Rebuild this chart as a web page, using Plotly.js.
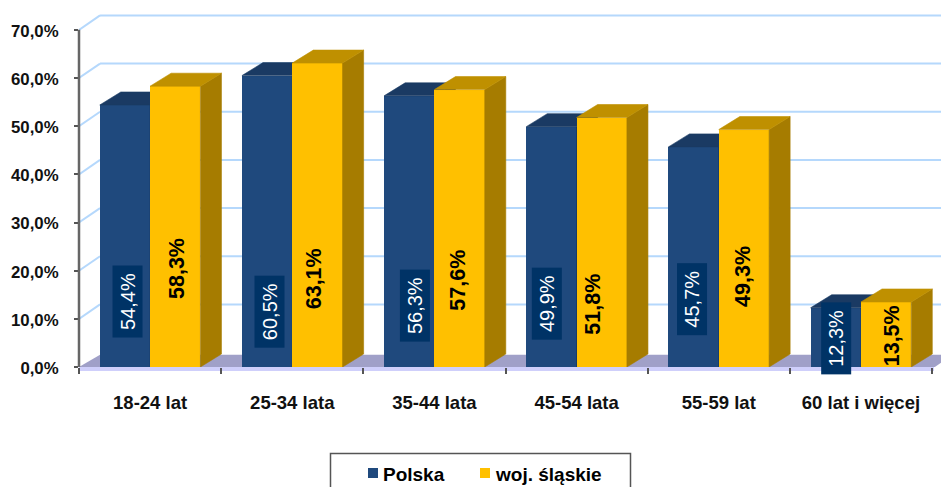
<!DOCTYPE html>
<html>
<head>
<meta charset="utf-8">
<script src="https://cdn.plot.ly/plotly-3.0.1.min.js"></script>
<style>html,body{margin:0;padding:0;background:#fff;overflow:hidden}#chart{width:941px;height:487px}</style>
</head>
<body>
<div id="chart"></div>
<script>
// ---- data ----
const categories = ["18-24 lat", "25-34 lata", "35-44 lata", "45-54 lata", "55-59 lat", "60 lat i więcej"];
const polska = [54.4, 60.5, 56.3, 49.9, 45.7, 12.3];
const slaskie = [58.3, 63.1, 57.6, 51.8, 49.3, 13.5];
const polskaLabels = ["54,4%", "60,5%", "56,3%", "49,9%", "45,7%", "12,3%"];
const slaskieLabels = ["58,3%", "63,1%", "57,6%", "51,8%", "49,3%", "13,5%"];
const seriesNames = ["Polska", "woj. śląskie"];
const yTickVals = [0, 10, 20, 30, 40, 50, 60, 70];
const yTickText = ["0,0%", "10,0%", "20,0%", "30,0%", "40,0%", "50,0%", "60,0%", "70,0%"];

// ---- label placement ----
const polskaLabelY = [13.6, 11.4, 12.8, 13.2, 14.0, 6.0];
const polskaLabelShift = [2.6, 2, 5.5, -4.7, -1.5, 0];
const slaskieLabelY = [20.4, 18.3, 18.05, 13.1, 18.9, 6.4];
const slaskieLabelShift = [1, -4, -2, -9, -1, 6];

// ---- geometry ----
const xEnd = 862 / 142.17;
const yEnd = 73.5;
const barW = 0.354;
const depthX = 0.148, depthY = 2.7;      // bar depth
const wallX = 0.148, wallY = 3.0;        // wall depth
const centers = categories.map((_, i) => i + 0.5);
const boundaries = categories.map((_, i) => i).concat([categories.length]);

function polys(vals, x0Of, build) {
  const xs = [], ys = [];
  vals.forEach((v, i) => {
    build(x0Of(i), x0Of(i) + barW, v).forEach(p => { xs.push(p[0]); ys.push(p[1]); });
    xs.push(null); ys.push(null);
  });
  return { x: xs, y: ys };
}
const topPoly = (a, b, v) => [[a, v], [a + depthX, v + depthY], [b + depthX, v + depthY], [b, v], [a, v]];
const sidePoly = (a, b, v) => [[b, 0], [b + depthX, depthY], [b + depthX, v + depthY], [b, v], [b, 0]];

function polyTrace(p, color, xa, ya) {
  return { type: 'scatter', mode: 'lines', x: p.x, y: p.y, fill: 'toself', fillcolor: color,
    line: { width: 0.6, color: color }, hoverinfo: 'skip', showlegend: false, xaxis: xa, yaxis: ya };
}
const blueX0 = i => centers[i] - barW;
const yellowX0 = i => centers[i];

const traces = [
  polyTrace(polys(polska, blueX0, sidePoly), '#17375E', 'x', 'y'),
  polyTrace(polys(polska, blueX0, topPoly), '#1A3A63', 'x', 'y'),
  { type: 'bar', name: seriesNames[0], x: centers, y: polska, width: barW, offset: -barW,
    marker: { color: '#1F497D', line: { width: 0 } }, showlegend: false, xaxis: 'x', yaxis: 'y' },
  { type: 'bar', name: seriesNames[1], x: centers, y: slaskie, width: barW, offset: 0,
    marker: { color: '#FFC000', line: { width: 0 } }, showlegend: false, xaxis: 'x2', yaxis: 'y2' },
  polyTrace(polys(slaskie, yellowX0, sidePoly), '#A67C00', 'x2', 'y2'),
  polyTrace(polys(slaskie, yellowX0, topPoly), '#BF9000', 'x2', 'y2')
];

const ML = 79, MT = 13, PW = 862, PH = 354;
const pxX = px => (px - ML) / PW;
const pxY = py => (MT + PH - py) / PH;

const shapes = [];
yTickVals.filter(v => v > 0).forEach(v => {
  const line = { color: '#B5D8FC', width: 2 };
  shapes.push({ type: 'line', layer: 'below', xref: 'x', yref: 'y', x0: 0, y0: v, x1: wallX, y1: v + wallY, line });
  shapes.push({ type: 'line', layer: 'below', xref: 'x', yref: 'y', x0: wallX, y0: v + wallY, x1: xEnd, y1: v + wallY, line });
});
// floor
shapes.push({ type: 'path', layer: 'below', xref: 'x', yref: 'y',
  path: `M0,0 L${wallX},${wallY * 0.85} L${xEnd},${wallY * 0.85} L${xEnd},${wallY * 0.3} L${boundaries[6] + 0.02},0 Z`,
  fillcolor: '#A0A0C8', line: { width: 0 } });
// floor front edge
shapes.push({ type: 'rect', layer: 'below', xref: 'paper', yref: 'paper',
  x0: 0, x1: pxX(934), y0: pxY(371), y1: pxY(367), fillcolor: '#CFCFFB', line: { width: 0 } });
// value axis line
shapes.push({ type: 'line', layer: 'above', xref: 'paper', yref: 'y', x0: 0, x1: 0, y0: 0, y1: 70,
  line: { color: '#666666', width: 2.5 } });
// legend box and keys
shapes.push({ type: 'rect', layer: 'above', xref: 'paper', yref: 'paper',
  x0: pxX(330.5), x1: pxX(630.5), y0: pxY(495), y1: pxY(453.5), fillcolor: 'rgba(0,0,0,0)',
  line: { color: '#555555', width: 1.5 } });
shapes.push({ type: 'rect', layer: 'above', xref: 'paper', yref: 'paper',
  x0: pxX(368), x1: pxX(378), y0: pxY(478), y1: pxY(468), fillcolor: '#1F497D', line: { width: 0 } });
shapes.push({ type: 'rect', layer: 'above', xref: 'paper', yref: 'paper',
  x0: pxX(480), x1: pxX(490), y0: pxY(478), y1: pxY(468), fillcolor: '#FFC000', line: { width: 0 } });

const annotations = [];
polskaLabels.forEach((t, i) => annotations.push({
  text: t, xref: 'x', yref: 'y', x: centers[i] - barW / 2, y: polskaLabelY[i], xshift: polskaLabelShift[i],
  showarrow: false, textangle: -90, xanchor: 'center', yanchor: 'middle',
  width: 71, height: 29, borderpad: 0, bgcolor: '#003366',
  font: { family: 'Liberation Sans', size: 20, color: '#FFFFFF' }
}));
slaskieLabels.forEach((t, i) => annotations.push({
  text: t, xref: 'x', yref: 'y', x: centers[i] + barW / 2, y: slaskieLabelY[i], xshift: slaskieLabelShift[i],
  showarrow: false, textangle: -90, xanchor: 'center', yanchor: 'middle',
  font: { family: 'Liberation Sans', size: 21.5, color: '#000000', weight: 700 }
}));
[[381.5, 0], [493.5, 1]].forEach(([px, k]) => annotations.push({
  text: seriesNames[k], xref: 'paper', yref: 'paper', x: pxX(px), y: pxY(474),
  showarrow: false, xanchor: 'left', yanchor: 'middle', borderpad: 0,
  font: { family: 'Liberation Sans', size: 19, color: '#000000', weight: 700 }
}));

const hiddenAxis = { visible: false, fixedrange: true };
const layout = {
  width: 941, height: 487,
  margin: { l: ML, r: 0, t: MT, b: 120, pad: 0 },
  paper_bgcolor: '#FFFFFF', plot_bgcolor: 'rgba(0,0,0,0)',
  showlegend: false, bargap: 0,
  xaxis: {
    range: [0, xEnd], tickmode: 'array', tickvals: centers, ticktext: categories, ticks: '',
    ticklabelstandoff: 22, showgrid: false, zeroline: false, showline: false,
    tickfont: { family: 'Liberation Sans', size: 18.5, color: '#111111', weight: 700 },
    minor: { ticks: 'outside', tickmode: 'array', tickvals: boundaries, ticklen: 6, tickwidth: 1.5, tickcolor: '#555555', showgrid: false }
  },
  yaxis: {
    range: [0, yEnd], tickmode: 'array', tickvals: yTickVals, ticktext: yTickText, ticks: 'outside',
    ticklen: 4, tickwidth: 1.5, tickcolor: '#555555', ticklabelstandoff: 12, ticklabelshift: 1,
    showgrid: false, zeroline: false, showline: false,
    tickfont: { family: 'Liberation Sans', size: 16.8, color: '#111111', weight: 700 }
  },
  xaxis2: Object.assign({ overlaying: 'x', range: [0, xEnd], anchor: 'y2' }, hiddenAxis),
  yaxis2: Object.assign({ overlaying: 'y', range: [0, yEnd], anchor: 'x2' }, hiddenAxis),
  shapes, annotations
};
Plotly.newPlot('chart', traces, layout, { displayModeBar: false, responsive: false });
</script>
</body>
</html>
